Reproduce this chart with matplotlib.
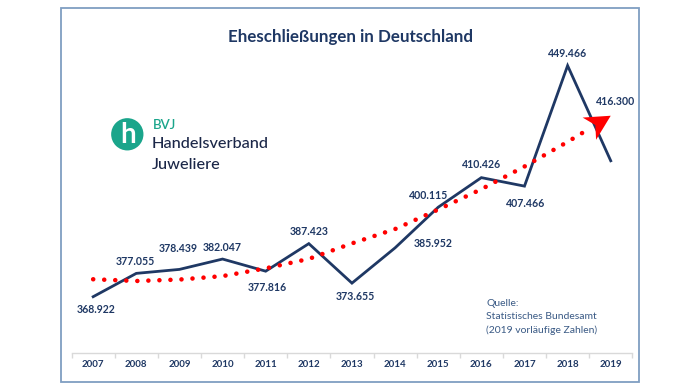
import matplotlib
matplotlib.use("Agg")
import numpy as np
import matplotlib.pyplot as plt
from matplotlib.patches import Circle, Rectangle, Polygon
from matplotlib.transforms import IdentityTransform

# ---- data ----
years = ["2007", "2008", "2009", "2010", "2011", "2012", "2013",
         "2014", "2015", "2016", "2017", "2018", "2019"]
marriages = [368.922, 377.055, 378.439, 382.047, 377.816, 387.423, 373.655,
             385.952, 400.115, 410.426, 407.466, 449.466, 416.300]
labels = ["368.922", "377.055", "378.439", "382.047", "377.816", "387.423",
          "373.655", "385.952", "400.115", "410.426", "407.466", "449.466",
          "416.300"]
# trend line
trend = [375.0, 374.4, 374.9, 376.1, 378.8, 382.1, 387.5,
         392.5, 399.3, 406.4, 414.3, 422.9, 432.0]

# label offsets in pixels (dx, dy downward positive)
label_off_px = [(3, 13), (-1, -11.6), (-1.6, -21.4), (0, -11.6), (1.7, 16.6),
                (0, -11.7), (3.3, 13.7), (38.4, -4), (-9.3, -12), (0, -12.7),
                (1, 17), (0, -11.7), (5.3, -59.3)]

W, H = 700, 390
NAVY = "#1F3864"
FONT = "Lato"

plt.rcParams['font.family'] = [FONT, 'DejaVu Sans']
fig = plt.figure(figsize=(W / 100, H / 100), dpi=100)
fig.patch.set_facecolor("white")

def px(x, y):
    return x / W, 1 - y / H

# outer border
fig.patches.append(Rectangle(px(60.7, 381.7), (638.7 - 60.7) / W, (381.7 - 8.3) / H,
                             transform=fig.transFigure, fill=False,
                             edgecolor="#7F9EC2", linewidth=1.3, zorder=0))

# axes
left, right, bottom, top = 71.6, 632.3, 353, 40
ax = fig.add_axes([left / W, (H - bottom) / H, (right - left) / W, (bottom - top) / H])
ax.set_facecolor("none")
x = list(range(len(years)))
ax.set_xlim(-0.5, len(years) - 0.5)
ax.set_ylim(349.3, 458.4)

ax.plot(x, marriages, color=NAVY, linewidth=2.0, solid_joinstyle="miter", zorder=3)
ax.plot(x[:-1] + [x[-1] - 0.45], trend[:-1] + [trend[-2] + 0.55 * (trend[-1] - trend[-2])],
        color="#FF0000", linewidth=3.3, linestyle=(0, (0.01, 2.4)),
        dash_capstyle="round", zorder=4)

# stealth arrow head at the end of the trend line (computed in display space)
p1 = ax.transData.transform((x[-2], trend[-2]))
p2 = ax.transData.transform((x[-1], trend[-1]))
u = (p2 - p1) / np.linalg.norm(p2 - p1)
n = np.array([-u[1], u[0]])
L, HW = 25.0, 13.0
head = [p2, p2 - L * u + HW * n, p2 - 0.72 * L * u, p2 - L * u - HW * n]
fig.patches.append(Polygon(head, closed=True, transform=IdentityTransform(),
                           facecolor="#FF0000", edgecolor="none", zorder=5))

for xi, v, lab, (dx, dy) in zip(x, marriages, labels, label_off_px):
    ax.annotate(lab, (xi, v), xytext=(dx * 0.72, -dy * 0.72), textcoords="offset points",
                ha="center", va="center", fontsize=7.6, fontweight="bold",
                color=NAVY, zorder=6)

for s in ["left", "right", "top"]:
    ax.spines[s].set_visible(False)
ax.spines["bottom"].set_color("#D9D9D9")
ax.spines["bottom"].set_linewidth(1.0)
ax.set_yticks([])
ax.set_xticks(x)
ax.set_xticklabels(years, fontsize=7, fontweight="bold", color=NAVY)
ax.tick_params(axis="x", which="major", length=0, pad=5)
ax.set_xticks([i - 0.5 for i in range(len(years) + 1)], minor=True)
ax.tick_params(axis="x", which="minor", length=3.5, color="#D9D9D9", width=1.0)

# title
fig.text(*px(350, 37), "Eheschließungen in Deutschland", ha="center", va="center",
         fontsize=12.2, fontweight="bold", color=NAVY)

# logo
TEAL = "#1AA58B"
lax = fig.add_axes([(127.3 - 17) / W, (H - 134.3 - 17) / H, 34 / W, 34 / H])
lax.set_xlim(-1, 1)
lax.set_ylim(-1, 1)
lax.set_aspect("equal")
lax.axis("off")
lax.add_patch(Circle((0, 0), 0.95, facecolor=TEAL, edgecolor="none"))
lax.text(0.02, -0.02, "h", ha="center", va="center", color="white",
         fontsize=20, fontweight="bold")

fig.text(*px(153, 125), "BVJ", ha="left", va="center", fontsize=9.5, color=TEAL,
         fontweight="semibold")
fig.text(*px(152, 143.5), "Handelsverband", ha="left", va="center", fontsize=11.7,
         color="#1B2748", fontweight="medium")
fig.text(*px(152, 165), "Juweliere", ha="left", va="center", fontsize=11.7,
         color="#1B2748", fontweight="medium")

# source
src_col = "#3A5A85"
for yy, t in [(303.5, "Quelle:"), (316.5, "Statistisches Bundesamt"),
              (330, "(2019 vorläufige Zahlen)")]:
    fig.text(*px(486.5, yy), t, ha="left", va="center", fontsize=7.5, color=src_col)

fig.savefig("out.png", dpi=100)
